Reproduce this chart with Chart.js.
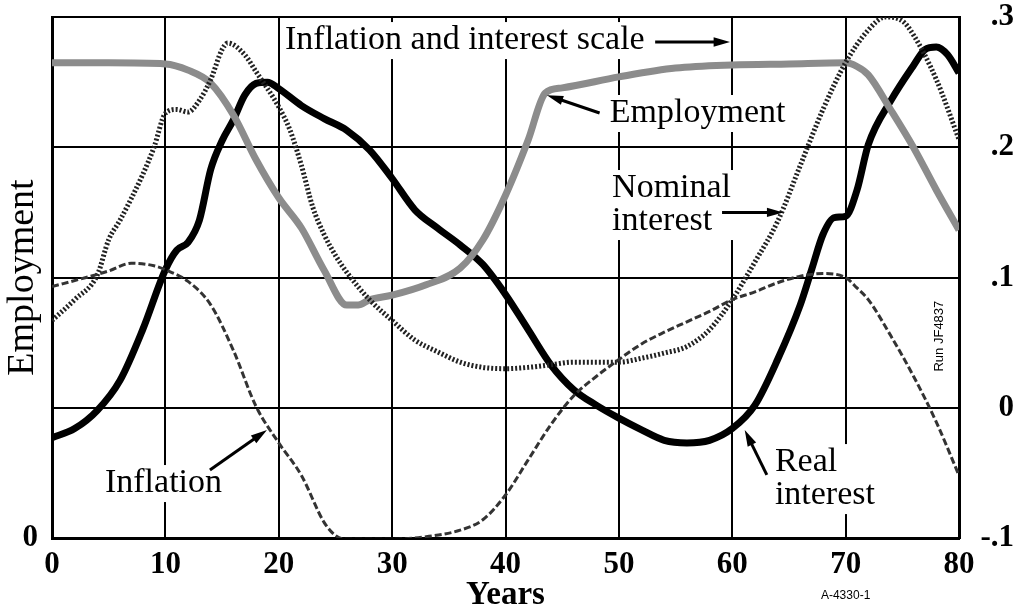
<!DOCTYPE html>
<html>
<head>
<meta charset="utf-8">
<script src="https://cdn.jsdelivr.net/npm/chart.js@4"></script>
<style>
  html, body { margin: 0; padding: 0; background: #fff; }
  #wrap { width: 1014px; height: 609px; position: relative; }
</style>
</head>
<body>
<div id="wrap"><canvas id="modelChart"></canvas></div>
<script>
// Years and values
const empYears = [0, 5, 10, 12, 14, 16, 18, 20, 22, 24, 26, 27, 28, 30, 33, 36, 38, 40, 42, 43.5, 45, 50, 55, 60, 65, 70, 71, 72, 74, 76, 78, 80];
const empValues = [0.912, 0.912, 0.910, 0.898, 0.873, 0.812, 0.726, 0.653, 0.595, 0.514, 0.447, 0.447, 0.457, 0.466, 0.486, 0.518, 0.572, 0.658, 0.764, 0.854, 0.864, 0.885, 0.902, 0.908, 0.910, 0.912, 0.905, 0.889, 0.821, 0.749, 0.668, 0.591];

const realYears = [0, 2, 4, 6, 8, 10, 11, 12, 13, 14, 15, 16, 17, 18, 19, 20, 22, 24, 26, 28, 30, 32, 34, 36, 38, 40, 42, 44, 46, 48, 50, 52, 54, 56, 58, 60, 62, 64, 66, 67, 68, 69, 70, 71, 72, 74, 76, 77, 78, 79, 80];
const realValues = [-0.023, -0.016, -0.002, 0.021, 0.060, 0.106, 0.121, 0.127, 0.144, 0.183, 0.205, 0.221, 0.240, 0.249, 0.250, 0.245, 0.232, 0.222, 0.213, 0.198, 0.176, 0.152, 0.138, 0.125, 0.110, 0.087, 0.060, 0.033, 0.014, 0.002, -0.008, -0.017, -0.025, -0.027, -0.025, -0.016, 0.002, 0.037, 0.079, 0.106, 0.133, 0.146, 0.147, 0.167, 0.202, 0.236, 0.263, 0.275, 0.277, 0.271, 0.257];

const nomYears = [0, 2, 4, 5, 6, 8, 9, 10, 11, 12, 13, 14, 15, 15.5, 17, 18, 20, 21, 22, 23, 24, 25, 26, 28, 30, 32, 34, 36, 38, 40, 42, 44, 46, 48, 50, 52, 54, 56, 58, 60, 62, 64, 66, 68, 70, 72, 73.5, 75, 76, 78, 80];
const nomValues = [0.067, 0.083, 0.102, 0.129, 0.144, 0.179, 0.200, 0.226, 0.229, 0.227, 0.236, 0.252, 0.275, 0.280, 0.271, 0.258, 0.231, 0.213, 0.186, 0.154, 0.133, 0.117, 0.104, 0.083, 0.067, 0.052, 0.043, 0.035, 0.031, 0.030, 0.031, 0.033, 0.035, 0.035, 0.035, 0.038, 0.042, 0.047, 0.060, 0.083, 0.112, 0.143, 0.186, 0.229, 0.265, 0.290, 0.300, 0.297, 0.286, 0.252, 0.206];

const inflYears = [0, 3, 5, 7, 9, 10, 12, 14, 16, 18, 20, 22, 24, 25, 26, 30, 33, 36, 38, 40, 42, 44, 46, 48, 50, 52, 54, 56, 58, 60, 62, 64, 66, 68, 70, 71, 72, 74, 76, 78, 80];
const inflValues = [0.093, 0.100, 0.105, 0.111, 0.109, 0.106, 0.097, 0.079, 0.044, 0.001, -0.027, -0.052, -0.088, -0.098, -0.101, -0.101, -0.099, -0.094, -0.086, -0.067, -0.040, -0.013, 0.009, 0.024, 0.037, 0.049, 0.058, 0.066, 0.074, 0.083, 0.089, 0.096, 0.101, 0.103, 0.100, 0.092, 0.083, 0.055, 0.024, -0.011, -0.052];

const xTicks = [0, 10, 20, 30, 40, 50, 60, 70, 80];
const rightTicks = [-0.1, 0, 0.1, 0.2, 0.3];

const serif = 'Liberation Serif';
const sans = 'Liberation Sans';

function pts(xs, ys) {
    return xs.map((x, i) => ({ x: x, y: ys[i] }));
}

function rateLabel(v) {
    if (Math.abs(v) < 1e-9) return '0';
    return v.toFixed(1).replace('0.', '.');
}

// text labels + arrows drawn over the plot
function arrow(ctx, x1, y1, x2, y2) {
    const a = Math.atan2(y2 - y1, x2 - x1);
    const head = 17;
    ctx.beginPath();
    ctx.moveTo(x1, y1);
    ctx.lineTo(x2 - Math.cos(a) * head * 0.8, y2 - Math.sin(a) * head * 0.8);
    ctx.lineWidth = 3;
    ctx.strokeStyle = '#000';
    ctx.stroke();
    ctx.beginPath();
    ctx.moveTo(x2, y2);
    ctx.lineTo(x2 - head * Math.cos(a - 0.28), y2 - head * Math.sin(a - 0.28));
    ctx.lineTo(x2 - head * Math.cos(a + 0.28), y2 - head * Math.sin(a + 0.28));
    ctx.closePath();
    ctx.fillStyle = '#000';
    ctx.fill();
}

const notes = [
    { lines: ['Inflation and interest scale'], x: 20.55, y: 0.2823 },
    { lines: ['Employment'], x: 49.2, y: 0.2263 },
    { lines: ['Nominal', 'interest'], x: 49.4, y: 0.1687 },
    { lines: ['Real', 'interest'], x: 63.76, y: -0.0417 },
    { lines: ['Inflation'], x: 4.67, y: -0.0578 }
];
const noteFont = '34px ' + serif;
const lineGap = 33;

const notesPlugin = {
    id: 'notes',
    beforeDatasetsDraw(chart) {
        const { ctx, scales } = chart;
        ctx.save();
        ctx.font = noteFont;
        ctx.fillStyle = '#fff';
        notes.forEach(n => {
            const x = scales.x.getPixelForValue(n.x);
            const y = scales.y.getPixelForValue(n.y);
            const w = Math.max(...n.lines.map(l => ctx.measureText(l).width));
            ctx.fillRect(x - 4, y - 18, w + 8, lineGap * n.lines.length + 4);
        });
        ctx.restore();
    },
    afterDraw(chart) {
        const { ctx, scales } = chart;
        const X = v => scales.x.getPixelForValue(v);
        const Y = v => scales.y.getPixelForValue(v);
        ctx.save();
        ctx.font = noteFont;
        ctx.fillStyle = '#000';
        ctx.textBaseline = 'middle';
        ctx.textAlign = 'left';
        notes.forEach(n => {
            n.lines.forEach((l, i) => {
                ctx.fillText(l, X(n.x), Y(n.y) + i * lineGap);
            });
        });

        arrow(ctx, X(53.2), Y(0.2808), X(59.8), Y(0.2808));
        arrow(ctx, X(48.3), Y(0.2263), X(43.65), Y(0.240));
        arrow(ctx, X(59.1), Y(0.150), X(64.5), Y(0.150));
        arrow(ctx, X(63.05), Y(-0.0516), X(61.1), Y(-0.017));
        arrow(ctx, X(13.93), Y(-0.0478), X(18.96), Y(-0.017));

        // small run ids
        ctx.font = '12px ' + sans;
        ctx.textAlign = 'center';
        ctx.fillText('A-4330-1', X(70), 596);
        ctx.font = '13px ' + sans;
        ctx.translate(X(78.3), Y(0.055));
        ctx.rotate(-Math.PI / 2);
        ctx.fillText('Run JF4837', 0, 0);
        ctx.restore();
    }
};

const ctx = document.getElementById('modelChart').getContext('2d');

const modelChart = new Chart(ctx, {
    type: 'line',
    data: {
        datasets: [
            {
                label: 'Inflation',
                data: pts(inflYears, inflValues),
                yAxisID: 'y',
                borderColor: '#333',
                borderWidth: 3,
                borderDash: [7, 3],
                pointRadius: 0,
                fill: false,
                cubicInterpolationMode: 'monotone'
            },
            {
                label: 'Nominal interest',
                data: pts(nomYears, nomValues),
                yAxisID: 'y',
                borderColor: '#222',
                borderWidth: 5,
                borderDash: [2, 2],
                pointRadius: 0,
                fill: false,
                cubicInterpolationMode: 'monotone'
            },
            {
                label: 'Employment',
                data: pts(empYears, empValues),
                yAxisID: 'yE',
                borderColor: '#8c8c8c',
                borderWidth: 7,
                pointRadius: 0,
                fill: false,
                cubicInterpolationMode: 'monotone'
            },
            {
                label: 'Real interest',
                data: pts(realYears, realValues),
                yAxisID: 'y',
                borderColor: '#000',
                borderWidth: 7,
                pointRadius: 0,
                fill: false,
                cubicInterpolationMode: 'monotone'
            }
        ]
    },
    options: {
        responsive: true,
        maintainAspectRatio: false,
        animation: false,
        layout: { padding: { top: 17, left: 0, right: 0, bottom: 0 } },
        plugins: {
            legend: { display: false },
            tooltip: { enabled: false }
        },
        scales: {
            x: {
                type: 'linear',
                min: 0,
                max: 80,
                afterBuildTicks: s => { s.ticks = xTicks.map(v => ({ value: v })); },
                ticks: {
                    color: '#000',
                    padding: 8,
                    font: { family: serif, size: 31, weight: 'bold' }
                },
                grid: { color: '#000', lineWidth: 2, drawTicks: false },
                border: { color: '#000', width: 3 },
                title: {
                    display: true,
                    text: 'Years',
                    color: '#000',
                    padding: 0,
                    font: { family: serif, size: 33, weight: 'bold', lineHeight: 0.8 }
                },
                afterFit: s => { s.height = 71; s.paddingLeft = 0; s.paddingRight = 0; }
            },
            y: {
                position: 'right',
                min: -0.1,
                max: 0.3,
                afterBuildTicks: s => { s.ticks = rightTicks.map(v => ({ value: v })); },
                ticks: {
                    color: '#000',
                    padding: 6,
                    crossAlign: 'far',
                    callback: v => rateLabel(v),
                    font: { family: serif, size: 31, weight: 'bold' }
                },
                grid: { color: '#000', lineWidth: 2, drawTicks: false },
                border: { color: '#000', width: 3 },
                afterFit: s => { s.width = 55; s.paddingTop = 0; s.paddingBottom = 0; }
            },
            yE: {
                position: 'left',
                min: 0,
                max: 1,
                afterBuildTicks: s => { s.ticks = [{ value: 0 }]; },
                ticks: {
                    color: '#000',
                    padding: 14,
                    font: { family: serif, size: 31, weight: 'bold' }
                },
                grid: { display: false, drawTicks: false },
                border: { color: '#000', width: 3 },
                title: {
                    display: true,
                    text: 'Employment',
                    color: '#000',
                    padding: 0,
                    font: { family: serif, size: 38 }
                },
                afterFit: s => { s.width = 52; s.paddingTop = 0; s.paddingBottom = 0; }
            }
        }
    },
    plugins: [notesPlugin]
});
</script>
</body>
</html>
